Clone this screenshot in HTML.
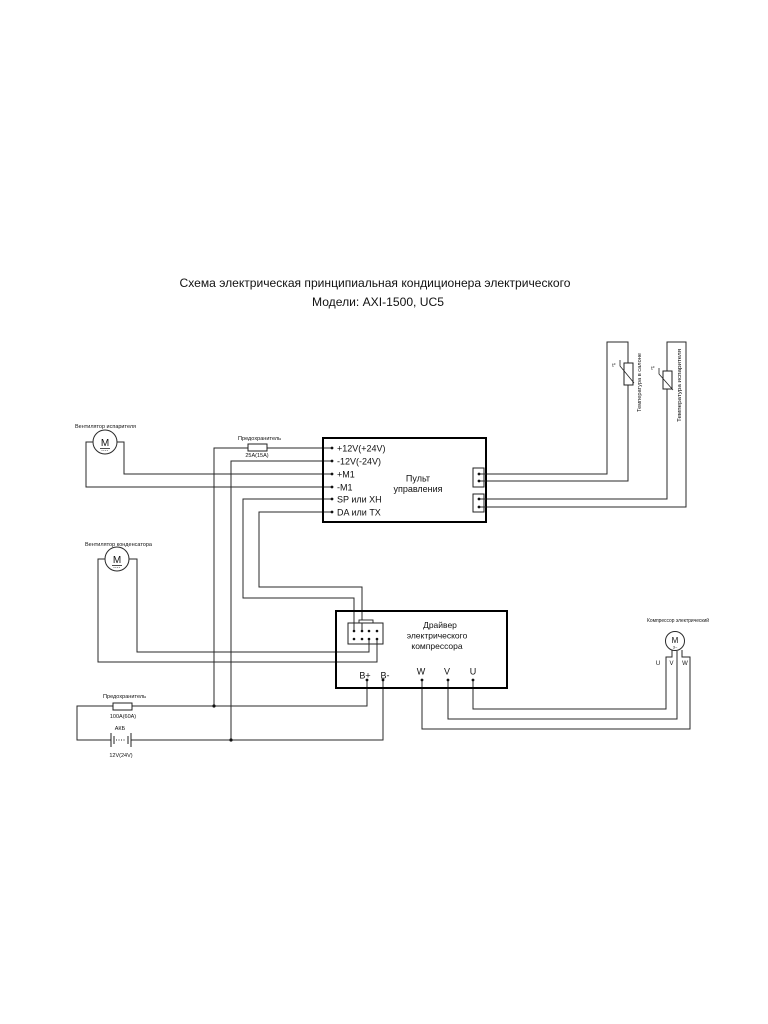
<!DOCTYPE html>
<html>
<head>
<meta charset="utf-8">
<style>
html,body{margin:0;padding:0;background:#fff;}
svg{display:block;}
text{font-family:"Liberation Sans","DejaVu Sans",sans-serif;fill:#111;}
</style>
</head>
<body>
<svg width="768" height="1024" viewBox="0 0 768 1024" xmlns="http://www.w3.org/2000/svg">
<rect width="768" height="1024" fill="#fff"/>

<!-- Title -->
<text x="375" y="287" font-size="12" text-anchor="middle" textLength="391" lengthAdjust="spacingAndGlyphs">Схема электрическая принципиальная кондиционера электрического</text>
<text x="378" y="306" font-size="12" text-anchor="middle" textLength="132" lengthAdjust="spacingAndGlyphs">Модели: AXI-1500, UC5</text>

<g fill="none" stroke="#2a2a2a" stroke-width="1">
  <!-- evaporator fan leads -->
  <path d="M93,442 H86 V487 H332"/>
  <path d="M117,442 H124 V474 H332"/>
  <!-- +12V -->
  <path d="M214,706 V448 H332"/>
  <!-- -12V -->
  <path d="M231,740 V461 H332"/>
  <!-- SP -->
  <path d="M354,631 V598 H243 V499 H332"/>
  <!-- DA -->
  <path d="M362,631 V587 H259 V512 H332"/>
  <!-- condenser fan -->
  <path d="M105,559 H98 V662 H377 V639"/>
  <path d="M129,559 H137 V652 H369 V639"/>
  <!-- sensors -->
  <path d="M479,474 H607 V342 H628 V481 H479"/>
  <path d="M479,499 H667 V342 H686 V507 H479"/>
  <!-- power -->
  <path d="M367,680 V706 H77 V740 H383 V680"/>
  <!-- compressor phases -->
  <path d="M473,680 V709 H666 V657 H672 V650"/>
  <path d="M448,680 V719 H677 V651"/>
  <path d="M422,680 V729 H690 V657 H682 V650"/>
</g>

<!-- Control panel box -->
<rect x="323" y="438" width="163" height="84" fill="none" stroke="#000" stroke-width="2"/>
<!-- redraw wires inside box tips -->
<g fill="#111">
  <circle cx="332" cy="448" r="1.4"/>
  <circle cx="332" cy="461" r="1.4"/>
  <circle cx="332" cy="474" r="1.4"/>
  <circle cx="332" cy="487" r="1.4"/>
  <circle cx="332" cy="499" r="1.4"/>
  <circle cx="332" cy="512" r="1.4"/>
</g>
<g font-size="9">
  <text x="337" y="451.5">+12V(+24V)</text>
  <text x="337" y="464.5">-12V(-24V)</text>
  <text x="337" y="477.5">+M1</text>
  <text x="337" y="490.5">-M1</text>
  <text x="337" y="502.5">SP или XH</text>
  <text x="337" y="515.5">DA или TX</text>
  <text x="418" y="481.5" text-anchor="middle">Пульт</text>
  <text x="418" y="492" text-anchor="middle">управления</text>
</g>
<!-- panel right connectors -->
<rect x="473" y="468" width="11" height="19" fill="#fff" stroke="#222" stroke-width="1"/>
<rect x="473" y="494" width="11" height="18" fill="#fff" stroke="#222" stroke-width="1"/>
<g stroke="#2a2a2a" stroke-width="1">
  <line x1="479" y1="474" x2="486" y2="474"/>
  <line x1="479" y1="481" x2="486" y2="481"/>
  <line x1="479" y1="499" x2="486" y2="499"/>
  <line x1="479" y1="507" x2="486" y2="507"/>
</g>
<g fill="#111">
  <circle cx="479" cy="474" r="1.4"/>
  <circle cx="479" cy="481" r="1.4"/>
  <circle cx="479" cy="499" r="1.4"/>
  <circle cx="479" cy="507" r="1.4"/>
</g>

<!-- Evaporator fan -->
<text x="75" y="428" font-size="5.5" textLength="61" lengthAdjust="spacingAndGlyphs">Вентилятор испарителя</text>
<circle cx="105" cy="442" r="12" fill="#fff" stroke="#2a2a2a" stroke-width="1"/>
<text x="105" y="446" font-size="10" text-anchor="middle">M</text>
<line x1="100" y1="448.5" x2="110" y2="448.5" stroke="#222" stroke-width="0.8"/>
<line x1="101.5" y1="450.5" x2="108.5" y2="450.5" stroke="#222" stroke-width="0.6" stroke-dasharray="1,0.8"/>

<!-- Top fuse -->
<text x="238" y="440" font-size="5.5" textLength="43" lengthAdjust="spacingAndGlyphs">Предохранитель</text>
<rect x="248" y="444" width="19" height="7" fill="#fff" stroke="#222" stroke-width="1"/>
<text x="257" y="457" font-size="5.5" text-anchor="middle">25A(15A)</text>

<!-- Condenser fan -->
<text x="85" y="546" font-size="5.5" textLength="67" lengthAdjust="spacingAndGlyphs">Вентилятор конденсатора</text>
<circle cx="117" cy="559" r="12" fill="#fff" stroke="#2a2a2a" stroke-width="1"/>
<text x="117" y="563" font-size="10" text-anchor="middle">M</text>
<line x1="112" y1="565.5" x2="122" y2="565.5" stroke="#222" stroke-width="0.8"/>
<line x1="113.5" y1="567.5" x2="120.5" y2="567.5" stroke="#222" stroke-width="0.6" stroke-dasharray="1,0.8"/>

<!-- Sensors -->
<rect x="624" y="363" width="9" height="22" fill="#fff" stroke="#222" stroke-width="1"/>
<path d="M620,360 V366 L634,383" fill="none" stroke="#222" stroke-width="0.8"/>
<text x="614" y="367" font-size="5" text-anchor="middle">t°</text>
<text transform="translate(641,412) rotate(-90)" font-size="5.5" textLength="59" lengthAdjust="spacingAndGlyphs">Температура в салоне</text>

<rect x="663" y="371" width="9" height="18" fill="#fff" stroke="#222" stroke-width="1"/>
<path d="M659,368 V374 L673,390" fill="none" stroke="#222" stroke-width="0.8"/>
<text x="653" y="370" font-size="5" text-anchor="middle">t°</text>
<text transform="translate(681,422) rotate(-90)" font-size="5.5" textLength="73" lengthAdjust="spacingAndGlyphs">Температура испарителя</text>

<!-- Driver box -->
<rect x="336" y="611" width="171" height="77" fill="none" stroke="#000" stroke-width="2"/>
<rect x="359" y="620" width="14" height="3" fill="#fff" stroke="#222" stroke-width="0.9"/>
<rect x="348" y="623" width="35" height="21" fill="#fff" stroke="#222" stroke-width="1"/>
<g stroke="#2a2a2a" stroke-width="1">
  <line x1="354" y1="623" x2="354" y2="631"/>
  <line x1="362" y1="623" x2="362" y2="631"/>
  <line x1="369" y1="639" x2="369" y2="644"/>
  <line x1="377" y1="639" x2="377" y2="644"/>
</g>
<g fill="#111">
  <circle cx="354" cy="631" r="1.3"/><circle cx="362" cy="631" r="1.3"/><circle cx="369" cy="631" r="1.3"/><circle cx="377" cy="631" r="1.3"/>
  <circle cx="354" cy="639" r="1.3"/><circle cx="362" cy="639" r="1.3"/><circle cx="369" cy="639" r="1.3"/><circle cx="377" cy="639" r="1.3"/>
</g>
<g font-size="8.5" text-anchor="middle">
  <text x="440" y="628">Драйвер</text>
  <text x="437" y="638.5">электрического</text>
  <text x="437" y="649">компрессора</text>
</g>
<g font-size="9" text-anchor="middle">
  <text x="365" y="678.5">B+</text>
  <text x="385" y="678.5">B-</text>
  <text x="421" y="674.5">W</text>
  <text x="447" y="674.5">V</text>
  <text x="473" y="674.5">U</text>
</g>
<g fill="#111">
  <circle cx="367" cy="680" r="1.4"/>
  <circle cx="383" cy="680" r="1.4"/>
  <circle cx="422" cy="680" r="1.4"/>
  <circle cx="448" cy="680" r="1.4"/>
  <circle cx="473" cy="680" r="1.4"/>
</g>

<!-- Bottom fuse and battery -->
<text x="103" y="698" font-size="5.5" textLength="43" lengthAdjust="spacingAndGlyphs">Предохранитель</text>
<rect x="113" y="703" width="19" height="7" fill="#fff" stroke="#222" stroke-width="1"/>
<text x="123" y="718" font-size="5.5" text-anchor="middle">100A(60A)</text>
<text x="120" y="730" font-size="5.5" text-anchor="middle">АКБ</text>
<rect x="111.5" y="736" width="19" height="8" fill="#fff"/>
<g stroke="#222" stroke-width="1">
  <line x1="111" y1="733" x2="111" y2="747"/>
  <line x1="114" y1="736" x2="114" y2="744"/>
  <line x1="116" y1="740" x2="126" y2="740" stroke-dasharray="1,1.5"/>
  <line x1="128" y1="736" x2="128" y2="744"/>
  <line x1="131" y1="733" x2="131" y2="747"/>
</g>
<text x="121" y="757" font-size="5.5" text-anchor="middle">12V(24V)</text>

<!-- junction dots -->
<circle cx="214" cy="706" r="1.6" fill="#111"/>
<circle cx="231" cy="740" r="1.6" fill="#111"/>

<!-- Compressor motor -->
<text x="678" y="622" font-size="5.5" text-anchor="middle" textLength="62" lengthAdjust="spacingAndGlyphs">Компрессор электрический</text>
<circle cx="675" cy="641" r="9.5" fill="#fff" stroke="#2a2a2a" stroke-width="1"/>
<text x="675" y="643" font-size="8" text-anchor="middle">M</text>
<text x="675" y="648.5" font-size="4" text-anchor="middle">3~</text>
<g font-size="6" text-anchor="middle">
  <text x="658" y="665">U</text>
  <text x="671.5" y="665">V</text>
  <text x="685" y="665">W</text>
</g>
</svg>
</body>
</html>
